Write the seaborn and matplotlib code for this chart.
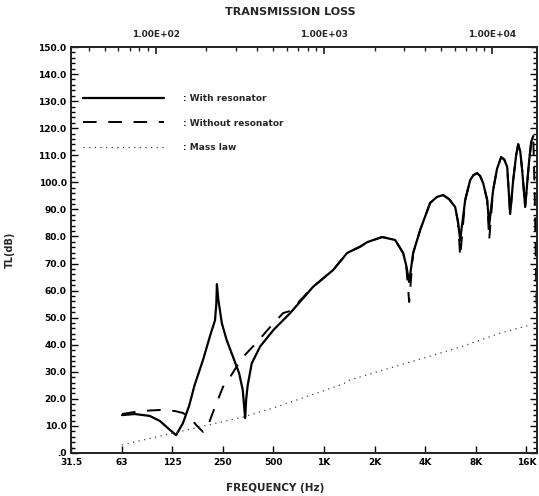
import matplotlib
matplotlib.use("Agg")
import matplotlib.pyplot as plt
import matplotlib.ticker as mticker
import seaborn as sns

# --- Data (frequency in Hz, TL in dB) ---
with_freq = [63, 75, 92, 106, 118, 132, 145, 158, 170, 191, 212, 225, 229, 231,
             235, 239, 247, 264, 288, 313, 329, 340, 345, 352, 372, 417, 500,
             630, 862, 1134, 1374, 1638, 1808, 2218, 2651, 2958, 3083, 3213,
             3393, 3735, 4282, 4700, 5118, 5550, 6032, 6285, 6460, 6921, 7405,
             7750, 8152, 8500, 8850, 9350, 9610, 10150, 10700, 11320, 11800,
             12300, 12810, 13350, 13910, 14300, 14700, 15100, 15730, 16620,
             17100, 17560]
with_tl = [14.0, 14.4, 13.7, 11.8, 9.2, 6.6, 11.0, 17.5, 25.0, 34.4, 44.0, 49.0, 55.0, 62.4,
           57.0, 54.0, 48.0, 41.7, 35.5, 29.5, 23.3, 12.9, 20.0, 25.0, 33.1, 39.3, 45.4,
           51.7, 61.4, 67.6, 73.9, 76.2, 77.9, 79.8, 78.7, 73.9, 69.4, 63.2,
           73.9, 82.4, 92.4, 94.6, 95.3, 93.8, 90.9, 85.0, 78.7, 93.5, 100.8,
           102.7, 103.4, 102.3, 99.7, 93.5, 84.2, 97.2, 105.0, 109.3, 108.5,
           105.7, 88.3, 100.8, 110.1, 114.1, 111.5, 104.5, 90.9, 108.2,
           115.0, 117.1]

without_freq = [63, 81, 106, 130, 145, 160, 176, 191, 205, 219, 251, 277, 326,
                401, 478, 572, 630, 862, 1134, 1374, 1638, 1808, 2218, 2651,
                2958, 3083, 3213, 3393, 3735, 4282, 4700, 5118, 5550, 6032,
                6285, 6460, 6921, 7405, 7750, 8152, 8500, 8850, 9350, 9610,
                10150, 10700, 11320, 11800, 12300, 12810, 13350, 13910, 14300,
                14700, 15100, 15730, 16620, 17100, 17560, 17900, 18150, 18400]
without_tl = [14.4, 15.5, 15.9, 15.5, 14.8, 12.9, 10.0, 7.8, 10.3, 15.1, 24.4, 28.1, 35.1,
              41.0, 46.5, 51.7, 52.5, 61.4, 67.6, 73.9, 76.2, 77.9, 79.8, 78.7,
              73.9, 69.4, 55.8, 73.9, 82.4, 92.4, 94.6, 95.3, 93.8, 90.9,
              85.0, 72.4, 93.5, 100.8, 102.7, 103.4, 102.3, 99.7, 93.5, 78.7,
              97.2, 105.0, 109.3, 108.5, 105.7, 88.0, 100.8, 110.1, 114.1,
              111.5, 104.5, 90.9, 108.2, 115.0, 117.1, 98.0, 76.0, 55.0]

mass_freq = [63, 330, 499, 1303, 1432, 4914, 6730, 11170, 16850]
mass_tl = [3.0, 13.3, 16.6, 25.5, 27.0, 36.9, 39.5, 44.3, 47.3]

octave_ticks = [31.5, 63, 125, 250, 500, 1000, 2000, 4000, 8000, 16000]
octave_labels = ['31.5', '63', '125', '250', '500', '1K', '2K', '4K', '8K', '16K']
decade_ticks = [100, 1000, 10000]
decade_labels = ['1.00E+02', '1.00E+03', '1.00E+04']
y_ticks = list(range(0, 151, 10))
y_labels = ['.0'] + [f'{v:.1f}' for v in y_ticks[1:]]

# --- Style ---
sns.set_theme(style="ticks")
plt.rcParams['font.family'] = ['DejaVu Sans']
plt.rcParams['font.weight'] = 'bold'

fig = plt.figure(figsize=(5.39, 4.96), dpi=100)
ax = fig.add_axes([0.1325, 0.0867, 0.8638, 0.8185])

sns.lineplot(x=without_freq, y=without_tl, ax=ax, color='black', lw=1.4,
             linestyle=(0, (7, 6)), estimator=None, sort=False,
             label=': Without resonator')
sns.lineplot(x=with_freq, y=with_tl, ax=ax, color='black', lw=1.6,
             estimator=None, sort=False, label=': With resonator')
sns.lineplot(x=mass_freq, y=mass_tl, ax=ax, color='#444444', lw=0.9,
             linestyle=(0, (1, 3.5)), estimator=None, sort=False,
             label=': Mass law')

ax.set_xscale('log')
ax.set_xlim(31.5, 18500)
ax.set_ylim(0, 150)

ax.set_xticks(octave_ticks)
ax.set_xticklabels(octave_labels)
ax.xaxis.set_minor_locator(mticker.NullLocator())
ax.set_yticks(y_ticks)
ax.set_yticklabels(y_labels)
ax.yaxis.set_minor_locator(mticker.MultipleLocator(2))

ax.tick_params(axis='both', which='both', direction='in', right=True,
               labelsize=6.5, width=1.0, colors='black')
ax.tick_params(which='major', length=5)
ax.tick_params(which='minor', length=3)
for s in ax.spines.values():
    s.set_linewidth(1.2)
    s.set_color('black')

# top decade axis
top = ax.twiny()
top.set_xscale('log')
top.set_xlim(ax.get_xlim())
top.set_xticks(decade_ticks)
top.set_xticklabels(decade_labels)
top.xaxis.set_minor_locator(mticker.LogLocator(base=10, subs=range(2, 10)))
top.xaxis.set_minor_formatter(mticker.NullFormatter())
top.tick_params(axis='x', which='both', direction='in', labelsize=6.5, pad=6)
top.tick_params(which='major', length=5)
top.tick_params(which='minor', length=3)

# legend inside plot, upper left
handles, labels = ax.get_legend_handles_labels()
order = [1, 0, 2]
ax.legend([handles[i] for i in order], [labels[i] for i in order],
          loc='upper left', bbox_to_anchor=(0.024, 0.885), frameon=False,
          handlelength=9, handletextpad=2.1, labelspacing=1.75,
          borderpad=0, borderaxespad=0, prop={'size': 6.5, 'weight': 'bold'})

ax.set_xlabel('FREQUENCY (Hz)', fontsize=7.5, fontweight='bold')
ax.xaxis.set_label_coords(0.437, -0.074)
ax.set_ylabel('TL(dB)', fontsize=7, fontweight='bold')
ax.yaxis.set_label_coords(-0.121, 0.5)
fig.text(0.538, 0.976, 'TRANSMISSION LOSS', ha='center', va='center',
         fontsize=8, fontweight='bold')

fig.savefig('out.png', dpi=100)
